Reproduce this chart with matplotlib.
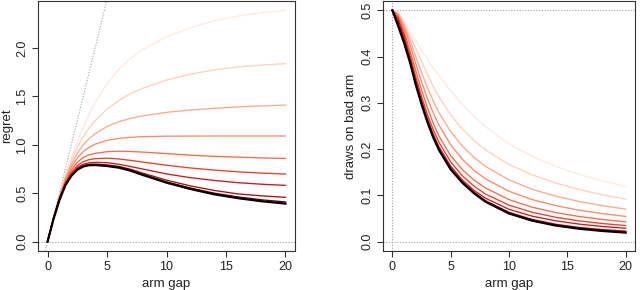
import matplotlib
matplotlib.use("Agg")
import matplotlib.pyplot as plt

plt.rcParams['font.family'] = ['Liberation Sans', 'DejaVu Sans']

gap = [0, 0.5, 1, 1.5, 2, 2.5, 3, 3.5, 4, 5, 6, 7, 8, 10, 12, 14, 16, 18, 20]

# regret curves (left panel), lightest -> darkest, last is black
regret_1 = [0, .248, .478, .685, .87, 1.035, 1.185, 1.315, 1.435, 1.63, 1.78, 1.895, 1.985, 2.115, 2.21, 2.28, 2.33, 2.365, 2.39]
regret_2 = [0, .247, .473, .67, .835, .975, 1.085, 1.175, 1.25, 1.37, 1.46, 1.53, 1.585, 1.67, 1.73, 1.775, 1.805, 1.825, 1.839]
regret_3 = [0, .246, .468, .655, .80, .915, 1.0, 1.065, 1.115, 1.19, 1.24, 1.275, 1.30, 1.336, 1.36, 1.378, 1.392, 1.403, 1.411]
regret_4 = [0, .245, .463, .64, .77, .865, .93, .975, 1.008, 1.047, 1.068, 1.079, 1.085, 1.09, 1.091, 1.092, 1.092, 1.092, 1.092]
regret_5 = [0, .243, .455, .62, .74, .82, .87, .897, .913, .93, .935, .932, .926, .91, .894, .882, .873, .866, .860]
regret_6 = [0, .241, .448, .606, .715, .785, .826, .848, .858, .863, .855, .84, .823, .79, .762, .74, .722, .709, .699]
regret_7 = [0, .239, .442, .597, .70, .766, .80, .815, .82, .817, .80, .776, .751, .70, .662, .633, .61, .594, .582]
regret_8 = [0, .237, .437, .59, .69, .753, .787, .80, .802, .794, .778, .748, .709, .636, .577, .53, .494, .474, .459]
regret_9 = [0, .235, .433, .586, .684, .747, .781, .794, .796, .787, .77, .739, .697, .618, .555, .502, .463, .433, .411]
regret_black = [0, .233, .43, .583, .68, .743, .777, .79, .792, .782, .765, .733, .69, .61, .545, .49, .45, .418, .394]

# draws on bad arm (right panel)
draws_1 = [.5, .496, .478, .4567, .435, .414, .395, .3757, .3588, .326, .2967, .2707, .2481, .2115, .1842, .1629, .1456, .1314, .1195]
draws_2 = [.5, .494, .473, .4467, .4175, .39, .3617, .3357, .3125, .274, .2433, .2186, .1981, .167, .1442, .1268, .1128, .1014, .09195]
draws_3 = [.5, .492, .468, .4367, .40, .366, .3333, .3043, .2788, .238, .2067, .1821, .1625, .1336, .1133, .09843, .087, .07794, .07055]
draws_4 = [.5, .49, .463, .4267, .385, .346, .31, .2786, .252, .2094, .178, .1541, .1356, .109, .09092, .078, .06825, .06067, .0546]
draws_5 = [.5, .486, .455, .4133, .37, .328, .29, .2563, .2283, .186, .1558, .1331, .1158, .091, .0745, .063, .05456, .04811, .043]
draws_6 = [.5, .482, .448, .404, .3575, .314, .2753, .2423, .2145, .1726, .1425, .12, .1029, .079, .0635, .05286, .04513, .03939, .03495]
draws_7 = [.5, .478, .442, .398, .35, .3064, .2667, .2329, .205, .1634, .1333, .1109, .0939, .07, .05517, .04521, .03813, .033, .0291]
draws_8 = [.5, .474, .437, .3933, .345, .3012, .2623, .2286, .2005, .1588, .1297, .1069, .0886, .0636, .04808, .03786, .03088, .02633, .02295]
draws_9 = [.5, .47, .433, .3907, .342, .2988, .2603, .2269, .199, .1574, .1283, .1056, .0871, .0618, .04625, .03586, .02894, .02406, .02055]
draws_black = [.5, .466, .43, .3887, .34, .2972, .259, .2257, .198, .1564, .1275, .1047, .08625, .061, .04542, .035, .02813, .02322, .0197]

regret_series = [regret_1, regret_2, regret_3, regret_4, regret_5, regret_6, regret_7, regret_8, regret_9]
draws_series = [draws_1, draws_2, draws_3, draws_4, draws_5, draws_6, draws_7, draws_8, draws_9]
colors = ['#FEE9E1', '#FDD0BF', '#FCAA8E', '#FC8A6A', '#FB6A4A', '#EF3B2C', '#CB181D', '#A50F15', '#67000D']

x_ticks = [0, 5, 10, 15, 20]
left_yticks = [0.0, 0.5, 1.0, 1.5, 2.0]
right_yticks = [0.0, 0.1, 0.2, 0.3, 0.4, 0.5]

fig = plt.figure(figsize=(6.4, 2.9), dpi=100)
axL = fig.add_axes([38/640, 39/290, 257/640, 250/290])
axR = fig.add_axes([383/640, 39/290, 252/640, 250/290])

dot = dict(color='#a0a0a0', linestyle=(0, (1, 1.5)), linewidth=0.8)

for ax in (axL, axR):
    for s in ax.spines.values():
        s.set_color('#333333')
        s.set_linewidth(0.8)
    ax.tick_params(direction='out', length=4.5, width=0.8, colors='#333333',
                   labelsize=9, labelcolor='#222222', pad=2.5)
    ax.set_xlim(-0.8, 20.8)
    ax.set_xticks(x_ticks)
    ax.set_xlabel('arm gap', fontsize=9.5, color='#222222', labelpad=4)

# left panel
axL.axhline(0, **dot)
axL.axline((0, 0), slope=0.5, **dot)
for r, c in zip(regret_series, colors):
    axL.plot(gap, r, color=c, linewidth=0.95)
axL.plot(gap, regret_black, color='black', linewidth=1.6)
axL.set_ylim(-0.0956, 2.486)
axL.set_yticks(left_yticks)
axL.set_yticklabels([f'{v:.1f}' for v in left_yticks], rotation=90, va='center')
axL.set_ylabel('regret', fontsize=9.5, color='#222222', labelpad=2)

# right panel
axR.axhline(0.5, **dot)
axR.axhline(0, **dot)
axR.axvline(0, **dot)
for d, c in zip(draws_series, colors):
    axR.plot(gap, d, color=c, linewidth=0.95)
axR.plot(gap, draws_black, color='black', linewidth=1.6)
axR.set_ylim(-0.02, 0.52)
axR.set_yticks(right_yticks)
axR.set_yticklabels([f'{v:.1f}' for v in right_yticks], rotation=90, va='center')
axR.set_ylabel('draws on bad arm', fontsize=9.5, color='#222222', labelpad=3)

fig.savefig('out.png', dpi=100)
